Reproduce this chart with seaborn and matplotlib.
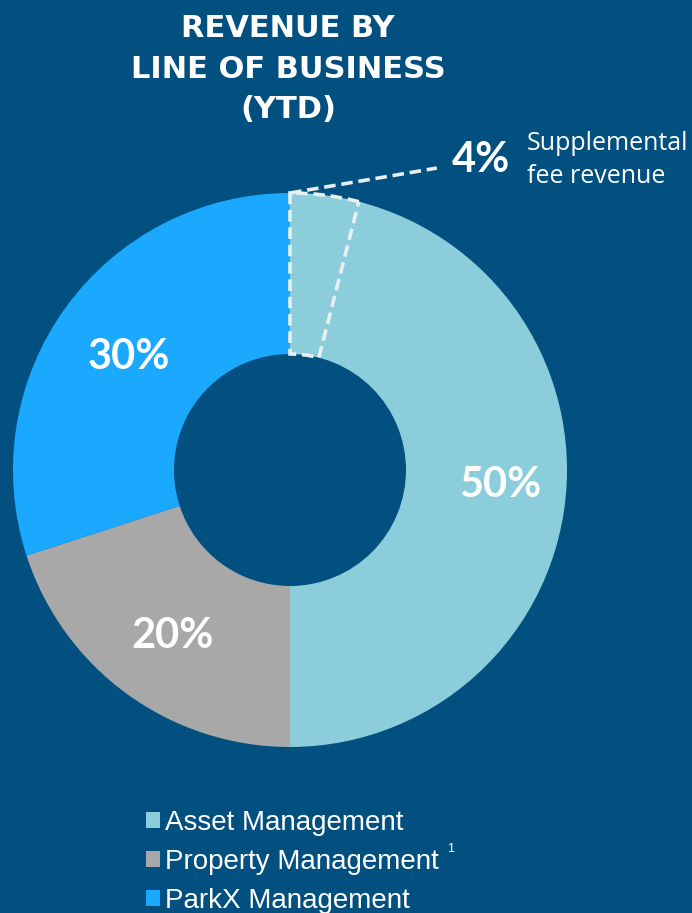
import matplotlib
matplotlib.use("Agg")
import matplotlib.pyplot as plt
from matplotlib.patches import Wedge, Patch
import seaborn as sns
import numpy as np

# ---- data ----
categories = ["Asset Management", "Property Management", "ParkX Management"]
values = [50, 20, 30]
supplemental_pct = 4
supplemental_label = "Supplemental\nfee revenue"
title = "REVENUE BY\nLINE OF BUSINESS\n(YTD)"

# ---- style ----
BG = "#02507f"
colors = sns.color_palette(["#8bcdda", "#a8a8a8", "#1ba9ff"])
sns.set_theme(style="white")
plt.rcParams["font.family"] = ["Lato", "DejaVu Sans"]

W, H = 692, 913
fig = plt.figure(figsize=(W / 100, H / 100), dpi=100, facecolor=BG)

cx, cy, R = 290, 470, 277
ax = fig.add_axes([(cx - R) / W, (H - cy - R) / H, 2 * R / W, 2 * R / H])
ax.set_facecolor(BG)

ring = 1 - 116 / 277
wedges, texts, autotexts = ax.pie(
    values, colors=colors, startangle=90, counterclock=False,
    radius=1, wedgeprops=dict(width=ring, edgecolor="none"),
    autopct=lambda p: f"{p:.0f}%", pctdistance=0.72,
    textprops=dict(color="white", fontsize=30, fontweight="bold"),
)
x0, y0 = autotexts[0].get_position()
autotexts[0].set_position((x0 + 0.04, y0 - 0.055))
for t in autotexts[1:]:
    x, y = t.get_position()
    t.set_position((x, y - 0.015))
ax.set_xlim(-1, 1)
ax.set_ylim(-1, 1)
ax.set_aspect("equal")
ax.axis("off")

# dashed supplemental wedge
span = 360 * supplemental_pct / 100
sup = Wedge((0, 0), 1, 90 - span, 90, width=ring, fill=False,
            edgecolor="#e8eef2", lw=2.6, ls=(0, (3.2, 1.6)), clip_on=False)
ax.add_patch(sup)
ax.plot([0, 0.53], [1.0, 1.09], color="#e8eef2", lw=2.6,
        ls=(0, (3.2, 1.6)), clip_on=False, solid_capstyle="butt")
ax.text(0.585, 1.118, f"{supplemental_pct}%", color="white", fontsize=30,
        fontweight="bold", ha="left", va="center", clip_on=False)
ax.text(0.856, 1.12, supplemental_label, color="white", fontsize=18,
        family="Open Sans", ha="left", va="center", linespacing=1.4,
        clip_on=False)

# title
fig.text(288 / W, 1 - 69 / H, title, color="white", fontsize=22,
         fontweight="bold", family="DejaVu Sans", ha="center", va="center",
         linespacing=1.48)

# legend
handles = [Patch(facecolor=c, edgecolor="none") for c in colors]
leg = fig.legend(handles, categories, loc="upper left",
                 bbox_to_anchor=(146 / W, 1 - 810 / H), frameon=False,
                 prop=dict(family="Liberation Sans", size=20),
                 handlelength=0.5, handleheight=0.5, handletextpad=0.2,
                 labelspacing=0.46, borderpad=0, borderaxespad=0)
for t in leg.get_texts():
    t.set_color("white")
fig.text(447 / W, 1 - 849 / H, "1", color="white", fontsize=9,
         family="Liberation Sans", ha="left", va="center")

fig.savefig("out.png", dpi=100, facecolor=BG)
